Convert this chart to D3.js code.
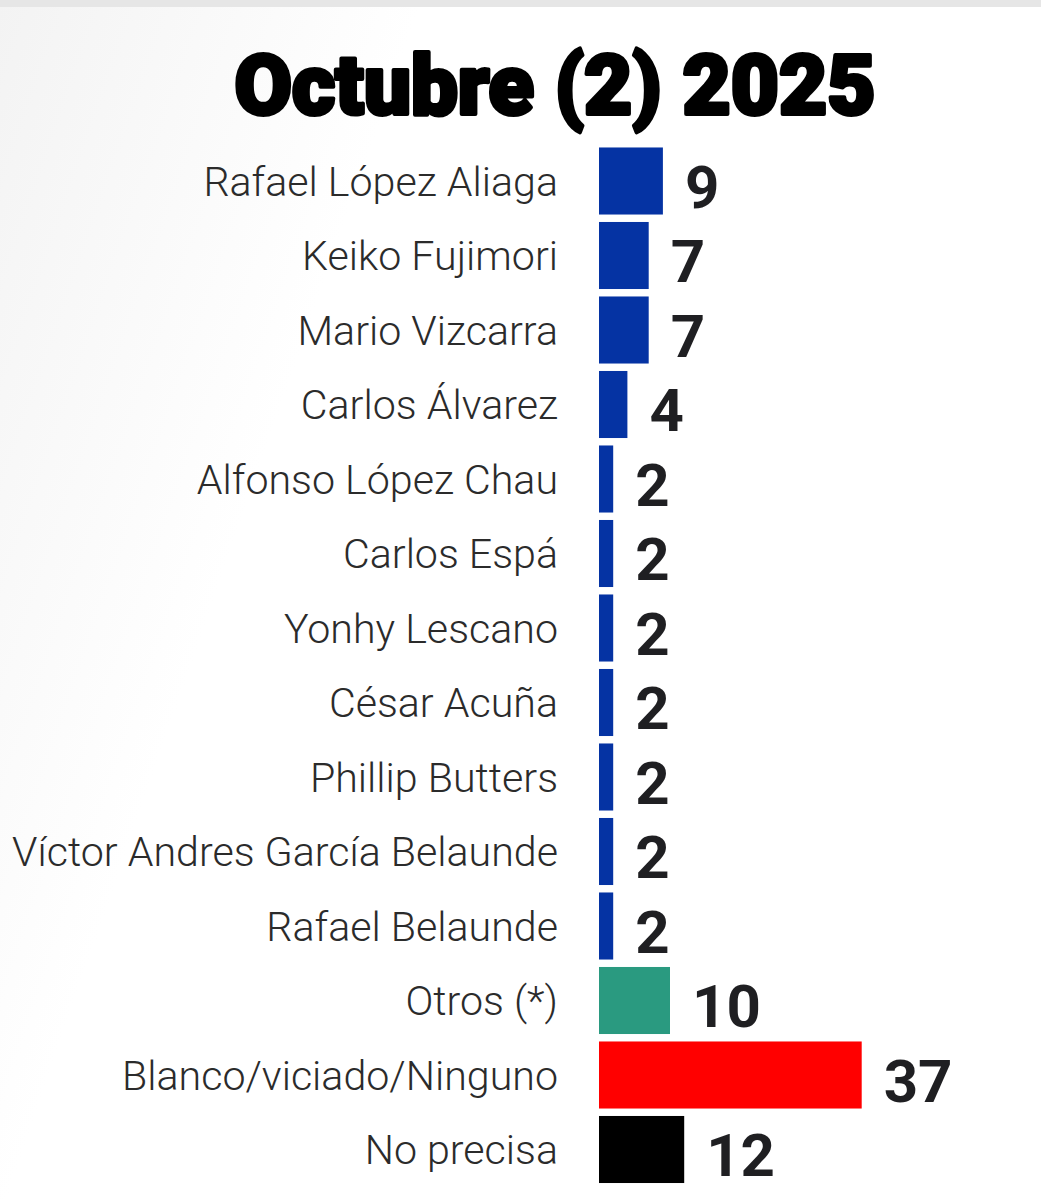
<!DOCTYPE html>
<html>
<head>
<meta charset="utf-8">
<script src="https://cdn.jsdelivr.net/npm/d3@7"></script>
<style>
  html, body { margin: 0; padding: 0; background: #fff; }
  svg { display: block; }
</style>
</head>
<body>
<svg id="chart" width="1041" height="1200"></svg>
<script>
const title = "Octubre (2) 2025";
const categories = [
  "Rafael López Aliaga",
  "Keiko Fujimori",
  "Mario Vizcarra",
  "Carlos Álvarez",
  "Alfonso López Chau",
  "Carlos Espá",
  "Yonhy Lescano",
  "César Acuña",
  "Phillip Butters",
  "Víctor Andres García Belaunde",
  "Rafael Belaunde",
  "Otros (*)",
  "Blanco/viciado/Ninguno",
  "No precisa"
];
const values = [9, 7, 7, 4, 2, 2, 2, 2, 2, 2, 2, 10, 37, 12];
const groups = ["c","c","c","c","c","c","c","c","c","c","c","o","b","n"];
const groupColors = { c: "#0533a3", o: "#2a9a80", b: "#ff0000", n: "#000000" };

const svg = d3.select("#chart");
const W = 1041, H = 1200;

// background
const defs = svg.append("defs");
const lg = defs.append("linearGradient").attr("id", "bg").attr("x1", "0").attr("y1", "0").attr("x2", "1").attr("y2", "0.4");
lg.append("stop").attr("offset", "0").attr("stop-color", "#f3f3f3");
lg.append("stop").attr("offset", "0.35").attr("stop-color", "#ffffff");
lg.append("stop").attr("offset", "1").attr("stop-color", "#ffffff");
svg.append("rect").attr("width", W).attr("height", H).attr("fill", "url(#bg)");
svg.append("rect").attr("width", W).attr("height", 7).attr("fill", "#e6e6e6");

const y = d3.scaleBand()
  .domain(categories)
  .range([143.75, 1186.75])
  .paddingInner(0.1)
  .paddingOuter(0.05);

const x = d3.scaleLinear().domain([0, 40]).range([599, 883]);

// title
svg.append("text")
  .attr("x", 555)
  .attr("y", 114)
  .attr("text-anchor", "middle")
  .attr("font-family", "Roboto, 'DejaVu Sans', sans-serif")
  .attr("font-weight", 900)
  .attr("font-size", 84)
  .attr("fill", "#000")
  .attr("stroke", "#000")
  .attr("stroke-width", 4)
  .attr("stroke-linejoin", "round")
  .attr("textLength", 641)
  .attr("lengthAdjust", "spacingAndGlyphs")
  .text(title);

// bars
svg.append("g").selectAll("rect")
  .data(categories)
  .join("rect")
  .attr("x", x(0))
  .attr("y", d => y(d))
  .attr("width", (d, i) => x(values[i]) - x(0))
  .attr("height", y.bandwidth())
  .attr("fill", (d, i) => groupColors[groups[i]]);

// category labels
const catG = svg.append("g");
catG.selectAll("text")
  .data(categories)
  .join("text")
  .attr("x", 558)
  .attr("y", d => y(d) + y.bandwidth() / 2)
  .attr("dy", "0.36em")
  .attr("text-anchor", "end")
  .attr("font-family", "Roboto, sans-serif")
  .attr("font-weight", 300)
  .attr("font-size", 38)
  .attr("fill", "#2b2b2b")
  .text(d => d);

// fit longest label width to ~546px
const longest = catG.selectAll("text").nodes().reduce((a, n) => Math.max(a, n.getComputedTextLength()), 0);
if (longest > 0) {
  const fs = 38 * 546 / longest;
  catG.selectAll("text").attr("font-size", fs);
}

// value labels
svg.append("g").selectAll("text")
  .data(categories)
  .join("text")
  .attr("x", (d, i) => x(values[i]) + 22)
  .attr("y", d => y(d) + y.bandwidth() - 7)
  .attr("font-family", "Roboto, sans-serif")
  .attr("font-weight", 700)
  .attr("font-size", 60)
  .attr("fill", "#1f1f22")
  .text((d, i) => values[i]);
</script>
</body>
</html>
